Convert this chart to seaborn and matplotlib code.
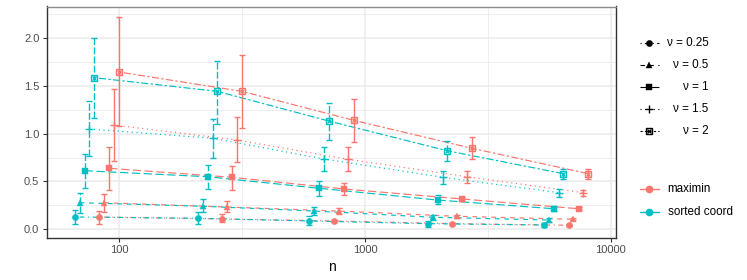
import numpy as np
import pandas as pd
import matplotlib
matplotlib.use("Agg")
import matplotlib.pyplot as plt
from matplotlib.lines import Line2D
import seaborn as sns

# ---------------- data ----------------
nu_levels = [0.25, 0.5, 1, 1.5, 2]
nu_labels = ["\u03bd = 0.25", "\u03bd = 0.5", "\u03bd = 1", "\u03bd = 1.5", "\u03bd = 2"]
methods = ["maximin", "sorted coord"]

# maximin (one list per nu)
n_maximin = [[82.9, 262.4, 747.3, 2263, 6753],
             [86.9, 274.2, 783.2, 2365, 7031],
             [91.1, 287.4, 818.4, 2485, 7396],
             [95.2, 301.0, 854.6, 2598, 7721],
             [100.0, 315.8, 898.6, 2721, 8091]]
y_maximin = [[0.129, 0.108, 0.087, 0.059, 0.042],
             [0.278, 0.233, 0.191, 0.136, 0.105],
             [0.638, 0.544, 0.422, 0.317, 0.215],
             [1.091, 0.934, 0.732, 0.550, 0.383],
             [1.645, 1.443, 1.140, 0.847, 0.582]]
lo_maximin = [[0.059, 0.073, 0.075, 0.049, 0.034],
              [0.181, 0.181, 0.157, 0.121, 0.093],
              [0.411, 0.414, 0.356, 0.295, 0.200],
              [0.714, 0.701, 0.607, 0.487, 0.348],
              [1.077, 1.063, 0.917, 0.739, 0.523]]
hi_maximin = [[0.191, 0.157, 0.099, 0.069, 0.050],
              [0.372, 0.296, 0.223, 0.151, 0.117],
              [0.861, 0.665, 0.487, 0.339, 0.230],
              [1.468, 1.171, 0.864, 0.610, 0.414],
              [2.224, 1.820, 1.363, 0.962, 0.634]]

# sorted coord (one list per nu)
n_sorted = [[66.0, 208.4, 593.0, 1798, 5343],
            [69.0, 218.4, 621.5, 1884, 5600],
            [72.3, 228.9, 649.4, 1974, 5851],
            [75.5, 239.9, 682.0, 2069, 6150],
            [79.1, 250.5, 711.0, 2154, 6401]]
y_sorted = [[0.129, 0.115, 0.087, 0.059, 0.045],
            [0.278, 0.241, 0.191, 0.126, 0.097],
            [0.613, 0.550, 0.429, 0.306, 0.215],
            [1.049, 0.952, 0.735, 0.544, 0.383],
            [1.586, 1.443, 1.133, 0.822, 0.582]]
lo_sorted = [[0.052, 0.052, 0.042, 0.028, 0.022],
             [0.174, 0.184, 0.150, 0.102, 0.075],
             [0.435, 0.422, 0.348, 0.262, 0.192],
             [0.770, 0.743, 0.613, 0.471, 0.341],
             [1.161, 1.105, 0.934, 0.718, 0.523]]
hi_sorted = [[0.205, 0.184, 0.139, 0.092, 0.068],
             [0.377, 0.317, 0.233, 0.150, 0.120],
             [0.788, 0.676, 0.502, 0.356, 0.240],
             [1.342, 1.154, 0.864, 0.610, 0.425],
             [2.004, 1.764, 1.324, 0.924, 0.634]]

x_ticks = [100, 1000, 10000]
x_ticklabels = ["100", "1000", "10000"]
y_ticks = [0.0, 0.5, 1.0, 1.5, 2.0]
y_ticklabels = ["0.0", "0.5", "1.0", "1.5", "2.0"]

# ---------------- styles ----------------
colors = {"maximin": "#F8766D", "sorted coord": "#00BFC4"}
dash_map = {nu_labels[0]: (1, 3, 4, 3),
            nu_labels[1]: (4, 4),
            nu_labels[2]: (7, 3),
            nu_labels[3]: (1, 3),
            nu_labels[4]: (2, 2, 6, 2)}
marker_map = {nu_labels[0]: "o", nu_labels[1]: "^", nu_labels[2]: "s",
              nu_labels[3]: "+", nu_labels[4]: "sx"}

rows = []
for m, N, Y, L, H in [("maximin", n_maximin, y_maximin, lo_maximin, hi_maximin),
                      ("sorted coord", n_sorted, y_sorted, lo_sorted, hi_sorted)]:
    for i, lab in enumerate(nu_labels):
        for n, y, lo, hi in zip(N[i], Y[i], L[i], H[i]):
            rows.append({"n": n, "value": y, "lo": lo, "hi": hi, "method": m, "nu": lab})
df = pd.DataFrame(rows)

sns.set_theme(style="white")
plt.rcParams["font.family"] = ["Liberation Sans", "DejaVu Sans"]

fig = plt.figure(figsize=(7.47, 2.80), dpi=100)
W, Hh = 747, 280
ax = fig.add_axes([47 / W, 1 - 237.7 / Hh, (616 - 47) / W, (237.7 - 6.5) / Hh])

ax.set_xscale("log")
ax.set_xlim(50.8, 10491)
ax.set_ylim(-0.0879, 2.3306)

# grid
ax.set_axisbelow(True)
for xv in [316.23, 3162.3]:
    ax.axvline(xv, color="#EBEBEB", lw=0.6, zorder=0)
for xv in x_ticks:
    ax.axvline(xv, color="#EBEBEB", lw=1.1, zorder=0)
for yv in [0.25, 0.75, 1.25, 1.75, 2.25]:
    ax.axhline(yv, color="#EBEBEB", lw=0.6, zorder=0)
for yv in y_ticks:
    ax.axhline(yv, color="#EBEBEB", lw=1.1, zorder=0)

# lines
sns.lineplot(data=df, x="n", y="value", hue="method", style="nu",
             palette=colors, dashes=dash_map, hue_order=methods,
             style_order=nu_labels, estimator=None, sort=True,
             linewidth=0.85, legend=False, ax=ax, zorder=2)

# error bars
for m in methods:
    for lab in nu_labels:
        d = df[(df.method == m) & (df.nu == lab)]
        eb = ax.errorbar(d.n, d.value, yerr=[d.value - d.lo, d.hi - d.value],
                         fmt="none", ecolor=colors[m], elinewidth=1.0,
                         capsize=2.0, capthick=1.0, zorder=3)
        if m == "sorted coord":
            for lc in eb[2]:
                lc.set_linestyle((0, (5, 1.6)))

# points
for m in methods:
    for lab in nu_labels:
        d = df[(df.method == m) & (df.nu == lab)]
        mk = marker_map[lab]
        c = colors[m]
        if mk == "sx":
            ax.plot(d.n, d.value, ls="none", marker="s", ms=4.2, mfc="none",
                    mec=c, mew=1.0, zorder=4)
            ax.plot(d.n, d.value, ls="none", marker="x", ms=3.0, mec=c,
                    mew=0.9, zorder=4)
        elif mk == "+":
            ax.plot(d.n, d.value, ls="none", marker="+", ms=5.5, mec=c,
                    mew=1.0, zorder=4)
        else:
            ms = {"o": 4.5, "^": 5.0, "s": 4.4}[mk]
            ax.plot(d.n, d.value, ls="none", marker=mk, ms=ms, mfc=c,
                    mec=c, mew=0.3, zorder=4)

# axes cosmetics
ax.set_xticks(x_ticks)
ax.set_xticklabels(x_ticklabels)
ax.xaxis.set_minor_locator(matplotlib.ticker.NullLocator())
ax.set_yticks(y_ticks)
ax.set_yticklabels(y_ticklabels)
ax.tick_params(axis="both", which="major", length=3.0, width=0.8,
               color="#333333", labelcolor="#4D4D4D", labelsize=8.0, pad=2.5,
               direction="out", bottom=True, left=True)
ax.set_xlabel("n", fontsize=10, color="black", labelpad=3)
ax.set_ylabel("")
for side in ["left", "bottom", "right"]:
    ax.spines[side].set_color("#333333")
    ax.spines[side].set_linewidth(1.0)
ax.spines["top"].set_color("#8C8C8C")
ax.spines["top"].set_linewidth(1.0)

# manual legends
def fx(px):
    return px / W

def fy(py):
    return 1 - py / Hh

for i, lab in enumerate(nu_labels):
    yy = 42.7 + 22.1 * i
    fig.add_artist(Line2D([fx(640), fx(658.5)], [fy(yy), fy(yy)], color="black",
                          lw=0.8, dashes=dash_map[lab], transform=fig.transFigure))
    mk = marker_map[lab]
    if mk == "sx":
        fig.add_artist(Line2D([fx(649.3)], [fy(yy)], ls="none", marker="s", ms=4.2,
                              mfc="none", mec="black", mew=1.0, transform=fig.transFigure))
        fig.add_artist(Line2D([fx(649.3)], [fy(yy)], ls="none", marker="x", ms=3.0,
                              mec="black", mew=0.9, transform=fig.transFigure))
    elif mk == "+":
        fig.add_artist(Line2D([fx(649.3)], [fy(yy)], ls="none", marker="+", ms=5.5,
                              mec="black", mew=1.0, transform=fig.transFigure))
    else:
        fig.add_artist(Line2D([fx(649.3)], [fy(yy)], ls="none", marker=mk, ms=4.5,
                              mfc="black", mec="black", mew=0.3, transform=fig.transFigure))
    fig.text(fx(708.5), fy(yy), lab, ha="right", va="center", fontsize=8.4,
             color="black")

for j, m in enumerate(methods):
    yy = 189.0 + 22.7 * j
    fig.add_artist(Line2D([fx(640), fx(658.5)], [fy(yy), fy(yy)], color=colors[m],
                          lw=1.0, transform=fig.transFigure))
    fig.add_artist(Line2D([fx(649.3)], [fy(yy)], ls="none", marker="o", ms=4.5,
                          mfc=colors[m], mec=colors[m], transform=fig.transFigure))
    fig.text(fx(667.7), fy(yy), m, ha="left", va="center", fontsize=8.4,
             color="black")

fig.savefig("out.png", dpi=100, facecolor="white")
